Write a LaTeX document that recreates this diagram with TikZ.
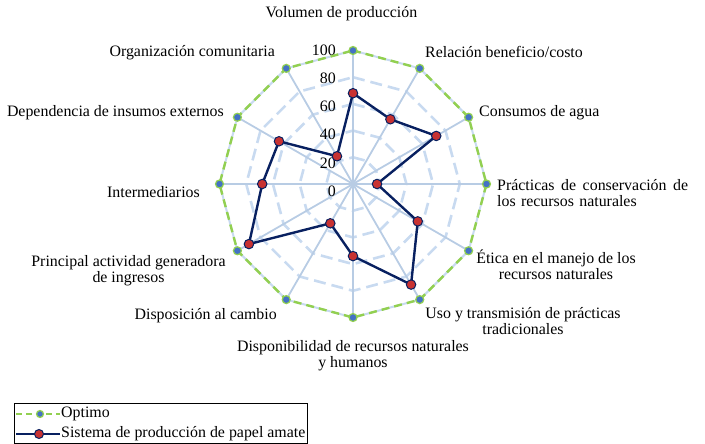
\documentclass[tikz,border=0pt]{standalone}
\usepackage{fontspec}
\setmainfont{Liberation Serif}
\usetikzlibrary{calc}
\definecolor{optgreen}{RGB}{146,208,80}
\definecolor{optblue}{RGB}{68,114,196}
\definecolor{navy}{RGB}{8,32,96}
\definecolor{datared}{RGB}{200,50,50}
\definecolor{spokecol}{RGB}{184,204,228}
\definecolor{ringcol}{RGB}{200,218,240}
\tikzset{
  lbl/.style={inner sep=0pt, font=\fontsize{15.9}{16}\selectfont},
  ringline/.style={draw=ringcol, line width=2.6pt, dash pattern=on 12pt off 6pt},
  outerring/.style={draw=ringcol, line width=2pt},
  spokeline/.style={draw=spokecol, line width=1.8pt},
  optline/.style={draw=optgreen, line width=2.4pt, dash pattern=on 8pt off 5pt},
  optmark/.style={circle, fill=optblue, draw=optgreen, line width=1.2pt, inner sep=0pt, minimum size=8pt},
  dataline/.style={draw=navy, line width=2.4pt, line join=round},
  datamark/.style={circle, fill=datared, draw=navy, line width=1pt, inner sep=0pt, minimum size=9.5pt},
}
\begin{document}
\begin{tikzpicture}[x=1pt,y=-1pt]
\useasboundingbox (0,0) rectangle (705,444);
\def\R{133.5}
\coordinate (c) at (353,184);
% axis end points
\foreach \i in {0,...,11} \coordinate (a\i) at ($(c)+({-90+30*\i}:\R)$);
% dashed rings
\foreach \v in {20,40,60,80}
  \draw[ringline] ($(c)+(-90:{\v*\R/100})$)
    \foreach \i in {1,...,11}{ -- ($(c)+({-90+30*\i}:{\v*\R/100})$)} -- cycle;
% outer ring
\draw[outerring] (a0) -- (a1) -- (a2) -- (a3) -- (a4) -- (a5) -- (a6) -- (a7) -- (a8) -- (a9) -- (a10) -- (a11) -- cycle;
% spokes
\foreach \i in {0,...,11} \draw[spokeline] (c) -- (a\i);
% scale labels
\foreach \v [count=\k from 0] in {100,80,60,40,20,0}
  \node[lbl, anchor=east] (s\v) at (336,{50+28.2*\k}) {\v};
% optimum series
\draw[optline] (a0) -- (a1) -- (a2) -- (a3) -- (a4) -- (a5) -- (a6) -- (a7) -- (a8) -- (a9) -- (a10) -- (a11) -- cycle;
\foreach \i in {0,...,11} \node[optmark] (o\i) at (a\i) {};
% data series
\foreach \v [count=\i from 0] in {68,56,72,18,56,87,54,34,90,68,64,24}
  \coordinate (d\i) at ($(c)+({-90+30*\i}:{\v*\R/100})$);
\draw[dataline] (d0) -- (d1) -- (d2) -- (d3) -- (d4) -- (d5) -- (d6) -- (d7) -- (d8) -- (d9) -- (d10) -- (d11) -- cycle;
\foreach \i in {0,...,11} \node[datamark] (m\i) at (d\i) {};
% category labels
\node[lbl] (l0) at (341.5,14) {Volumen de producción};
\node[lbl, anchor=west] (l1) at (425,52) {Relación beneficio/costo};
\node[lbl, anchor=west] (l2) at (479,113) {Consumos de agua};
\node[lbl, anchor=west, text width=191pt, align=left] (l3) at (497,193)
  {Prácticas\hfill de\hfill conservación\hfill de\\los recursos naturales};
\node[lbl, align=center] (l4) at (556,264.5) {Ética en el manejo de los\\recursos naturales};
\node[lbl, align=center] (l5) at (523,321) {Uso y transmisión de prácticas\\tradicionales};
\node[lbl, align=center] (l6) at (353,356) {Disponibilidad de recursos naturales\\y humanos};
\node[lbl, anchor=east] (l7) at (277,316) {Disposición al cambio};
\node[lbl, align=center] (l8) at (128.5,271) {Principal actividad generadora\\de ingresos};
\node[lbl, anchor=east] (l9) at (200,192) {Intermediarios};
\node[lbl, anchor=east] (l10) at (224,113) {Dependencia de insumos externos};
\node[lbl, anchor=east] (l11) at (275,53) {Organización comunitaria};
% legend
\draw[black, line width=0.8pt] (14,403) rectangle (307,443.5);
\coordinate (g1a) at (16,414); \coordinate (g1b) at (60,414);
\coordinate (g2a) at (16,434); \coordinate (g2b) at (60,434);
\draw[optgreen, line width=1.6pt, dash pattern=on 6pt off 4pt] (g1a) -- (g1b);
\node[optmark, minimum size=7pt] (k1) at (40,414) {};
\draw[navy, line width=1.8pt] (g2a) -- (g2b);
\node[datamark, minimum size=9pt] (k2) at (39,434) {};
\node[lbl, anchor=west] (t1) at (61,414) {Optimo};
\node[lbl, anchor=west] (t2) at (61,434) {Sistema de producción de papel amate};
\end{tikzpicture}
\end{document}
